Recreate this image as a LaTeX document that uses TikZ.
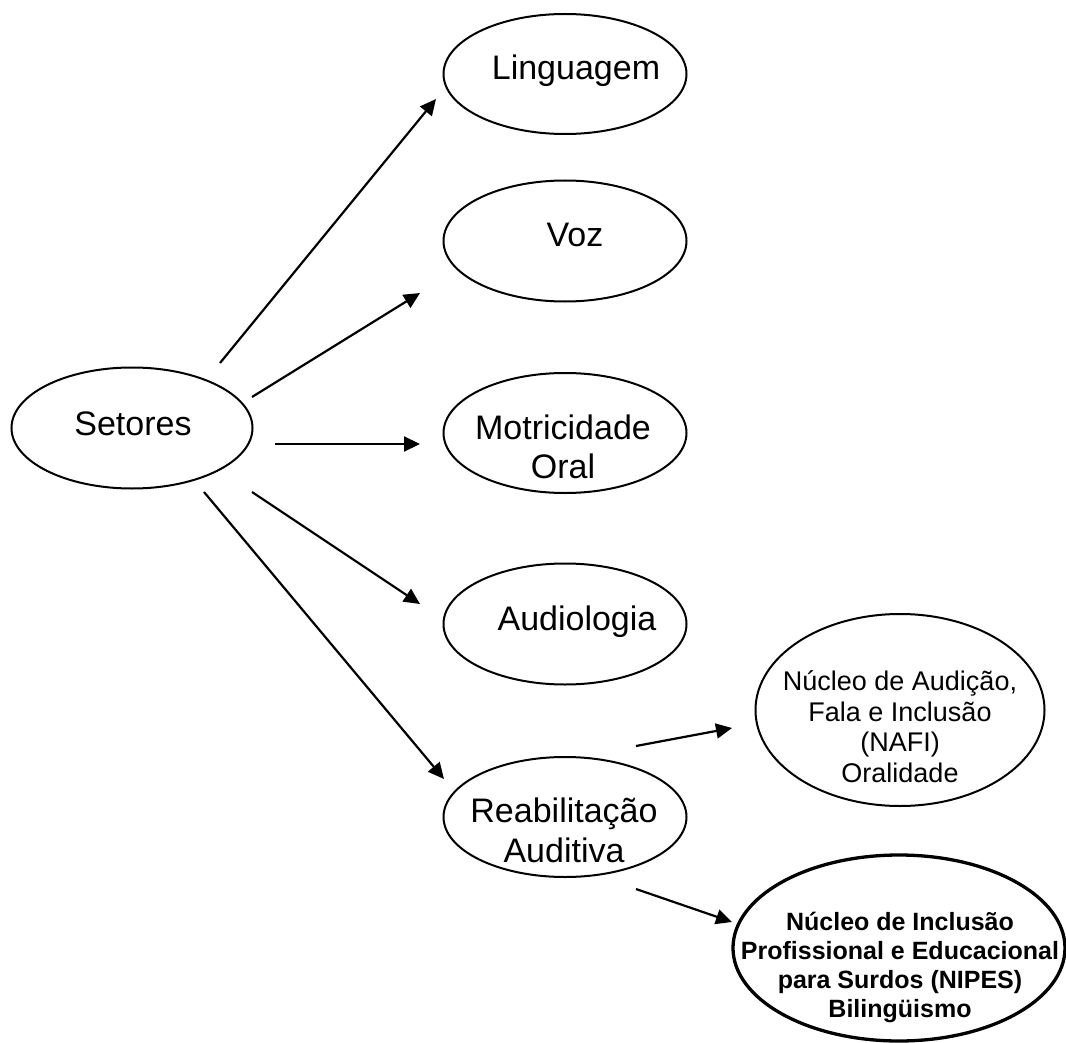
\documentclass[tikz,border=0pt]{standalone}
\usepackage{fontspec}
\setmainfont{Liberation Sans}
\usetikzlibrary{arrows.meta,shapes.geometric}
\begin{document}
\begin{tikzpicture}[x=1pt,y=-1pt,
  ell/.style={draw, ellipse, line width=2pt, inner sep=0pt},
  lbl/.style={font=\fontsize{34}{39}\selectfont, anchor=base, inner sep=0pt, align=center},
  small/.style={font=\fontsize{27}{30.5}\selectfont, anchor=base, inner sep=0pt, align=center},
  boldsmall/.style={font=\fontsize{25}{29}\selectfont\bfseries, anchor=base, inner sep=0pt, align=center},
  arr/.style={line width=2.2pt, -{Triangle[length=16pt,width=15pt]}}]
\useasboundingbox (0,0) rectangle (1066,1043);
% ellipses
\node[ell, minimum width=241pt, minimum height=121pt] (setores) at (132,428) {};
\node[ell, minimum width=243pt, minimum height=120pt] (ling) at (565,74) {};
\node[ell, minimum width=243pt, minimum height=121pt] (voz) at (565,241) {};
\node[ell, minimum width=243pt, minimum height=120pt] (motr) at (565,433) {};
\node[ell, minimum width=243pt, minimum height=121pt] (audio) at (565,624) {};
\node[ell, minimum width=243pt, minimum height=120pt] (reab) at (565,817) {};
\node[ell, minimum width=289pt, minimum height=192pt] (nafi) at (900,710) {};
\node[ell, line width=3.3pt, minimum width=332pt, minimum height=186pt] (nipes) at (899,948) {};
% texts (base anchor = baseline of the last line)
\node[lbl] (setoresT) at (133,435) {Setores};
\node[lbl] (lingT) at (576,80) {Linguagem};
\node[lbl] (vozT) at (575,247) {Voz};
\node[lbl] (motrT) at (563,478) {Motricidade\\Oral};
\node[lbl] (audioT) at (577,630) {Audiologia};
\node[lbl, font=\fontsize{34}{40}\selectfont] (reabT) at (564,862) {Reabilitação\\Auditiva};
\node[small] (nafiT) at (900,782) {Núcleo de Audição,\\Fala e Inclusão\\(NAFI)\\Oralidade};
\node[boldsmall] (nipesT) at (900,1017) {Núcleo de Inclusão\\Profissional e Educacional\\para Surdos (NIPES)\\Bilingüismo};
% arrow ends
\coordinate (s1) at (220,363); \coordinate (e1) at (436,99);
\coordinate (s2) at (252,397); \coordinate (e2) at (420,293);
\coordinate (s3) at (275,444); \coordinate (e3) at (420,444);
\coordinate (s4) at (252,492); \coordinate (e4) at (420,604);
\coordinate (s5) at (204,492); \coordinate (e5) at (444,779);
\coordinate (s6) at (636,746); \coordinate (e6) at (732,728);
\coordinate (s7) at (636,889); \coordinate (e7) at (732,922);
\draw[arr] (s1) -- (e1);
\draw[arr] (s2) -- (e2);
\draw[arr] (s3) -- (e3);
\draw[arr] (s4) -- (e4);
\draw[arr] (s5) -- (e5);
\draw[arr] (s6) -- (e6);
\draw[arr] (s7) -- (e7);
\end{tikzpicture}
\end{document}
